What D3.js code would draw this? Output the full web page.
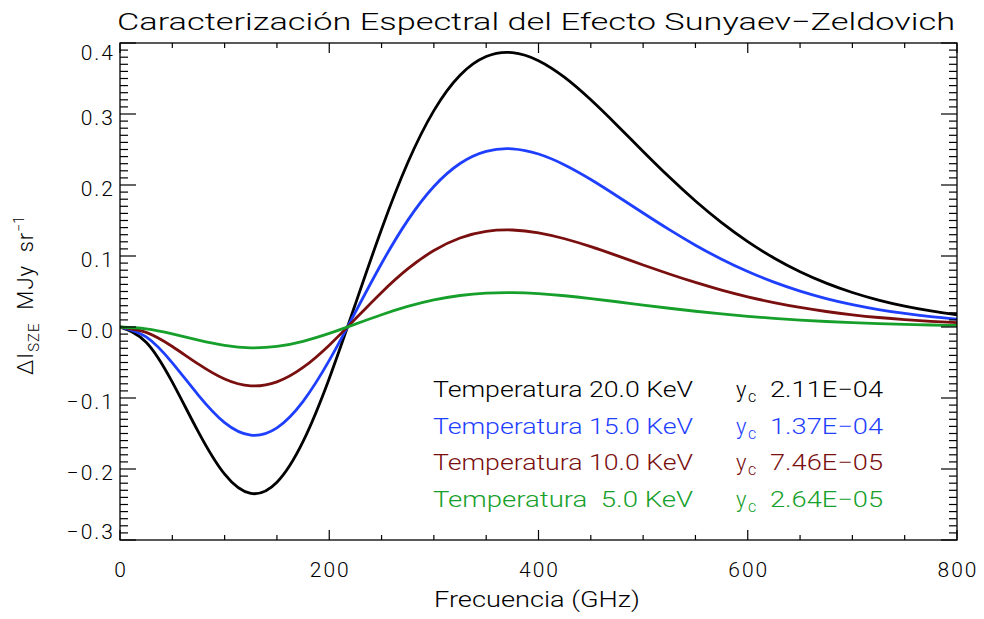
<!DOCTYPE html>
<html>
<head>
<meta charset="utf-8">
<script src="https://cdn.jsdelivr.net/npm/d3@7/dist/d3.min.js"></script>
<style>
  html, body { margin: 0; padding: 0; background: #fff; }
  svg text { font-family: "Roboto", "DejaVu Sans", sans-serif; font-weight: 300; white-space: pre; }
</style>
</head>
<body>
<svg id="chart" width="984" height="619"></svg>
<script>
// Frequencies (GHz) at which the spectra are sampled
const freqs = [0, 25, 50, 75, 100, 125, 150, 175, 200, 225, 250, 275, 300, 325, 350, 375, 400,
               425, 450, 475, 500, 525, 550, 575, 600, 625, 650, 675, 700, 725, 750, 775, 800];

// ΔI_SZE (MJy/sr) for each electron temperature
const sz20 = [0, -0.02141, -0.07767, -0.14809, -0.20734, -0.23441, -0.21864, -0.16118, -0.07248,
              0.03231, 0.13776, 0.23128, 0.30478, 0.35465, 0.38100, 0.38648, 0.37515, 0.35155,
              0.32000, 0.28422, 0.24720, 0.21112, 0.17743, 0.14701, 0.12027, 0.09728, 0.07787,
              0.06176, 0.04855, 0.03787, 0.02933, 0.02256, 0.01724];
const sz15 = [0, -0.01391, -0.05044, -0.09616, -0.13464, -0.15222, -0.14198, -0.10467, -0.04706,
              0.02098, 0.08946, 0.15019, 0.19792, 0.23030, 0.24741, 0.25097, 0.24361, 0.22829,
              0.20779, 0.18456, 0.16052, 0.13709, 0.11522, 0.09547, 0.07810, 0.06317, 0.05057,
              0.04010, 0.03153, 0.02460, 0.01905, 0.01465, 0.01120];
const sz10 = [0, -0.00757, -0.02746, -0.05236, -0.07331, -0.08288, -0.07730, -0.05699, -0.02562,
              0.01143, 0.04871, 0.08177, 0.10776, 0.12539, 0.13471, 0.13664, 0.13264, 0.12429,
              0.11314, 0.10049, 0.08740, 0.07464, 0.06273, 0.05198, 0.04252, 0.03440, 0.02753,
              0.02184, 0.01717, 0.01339, 0.01037, 0.00798, 0.00610];
const sz05 = [0, -0.00268, -0.00972, -0.01853, -0.02594, -0.02933, -0.02736, -0.02017, -0.00907,
              0.00404, 0.01724, 0.02894, 0.03814, 0.04437, 0.04767, 0.04836, 0.04694, 0.04399,
              0.04004, 0.03556, 0.03093, 0.02642, 0.02220, 0.01840, 0.01505, 0.01217, 0.00974,
              0.00773, 0.00608, 0.00474, 0.00367, 0.00282, 0.00216];

// Legend content
const temps = ["20.0", "15.0", "10.0", " 5.0"];
const ycVals = ["2.11E\u221204", "1.37E\u221204", "7.46E\u221205", "2.64E\u221205"];
const colors = ["#000000", "#1f3fff", "#7a0f0f", "#16a02b"];
const seriesList = [sz20, sz15, sz10, sz05];

// Axis ticks
const xTicks = [0, 200, 400, 600, 800];
const xTickLabels = ["0", "200", "400", "600", "800"];
const yTicks = [0.4, 0.3, 0.2, 0.1, 0.0, -0.1, -0.2, -0.3];
const yTickLabels = ["0.4", "0.3", "0.2", "0.1", "\u22120.0", "\u22120.1", "\u22120.2", "\u22120.3"];

const svg = d3.select("#chart");
const L = 120, R = 957, T = 43, B = 540;

const x = d3.scaleLinear().domain([0, 800]).range([L, R]);
const y = d3.scaleLinear().domain([-0.3, 0.4]).range([B, T]);

svg.append("rect").attr("width", 984).attr("height", 619).attr("fill", "#fff");

// Title
svg.append("text")
  .attr("x", 117).attr("y", 30)
  .attr("font-size", 24)
  .attr("textLength", 838).attr("lengthAdjust", "spacingAndGlyphs")
  .text("Caracterización Espectral del Efecto Sunyaev\u2212Zeldovich");

// Curves
const line = d3.line()
  .x((d, i) => x(freqs[i]))
  .y(d => y(d))
  .curve(d3.curveNatural);

const plot = svg.append("g");
plot.append("clipPath").attr("id", "clip")
  .append("rect").attr("x", L).attr("y", T).attr("width", R - L).attr("height", B - T);

seriesList.forEach((s, k) => {
  plot.append("path")
    .attr("d", line(s))
    .attr("fill", "none")
    .attr("stroke", colors[k])
    .attr("stroke-width", 2.8)
    .attr("stroke-linejoin", "round")
    .attr("clip-path", "url(#clip)");
});

// Frame
svg.append("rect")
  .attr("x", L).attr("y", T).attr("width", R - L).attr("height", B - T)
  .attr("fill", "none").attr("stroke", "#000").attr("stroke-width", 1.3);

// X ticks (bottom and top, pointing inward)
const xMinor = d3.range(0, 801, 50);
const xg = svg.append("g").attr("stroke", "#000").attr("stroke-width", 1.2);
xMinor.forEach(v => {
  const major = v % 200 === 0;
  const len = major ? 10 : 5;
  xg.append("line").attr("x1", x(v)).attr("x2", x(v)).attr("y1", B).attr("y2", B - len);
  xg.append("line").attr("x1", x(v)).attr("x2", x(v)).attr("y1", T).attr("y2", T + len);
});

// Y ticks (left and right, pointing inward)
const yMinor = d3.range(-30, 41, 1).map(v => v / 100);
const yg = svg.append("g").attr("stroke", "#000").attr("stroke-width", 1.2);
yMinor.forEach(v => {
  const major = Math.round(v * 100) % 10 === 0;
  const len = major ? 16 : 8;
  yg.append("line").attr("x1", L).attr("x2", L + len).attr("y1", y(v)).attr("y2", y(v));
  yg.append("line").attr("x1", R).attr("x2", R - len).attr("y1", y(v)).attr("y2", y(v));
});

// X tick labels
svg.append("g").selectAll("text").data(xTicks).join("text")
  .attr("x", d => x(d) + 1).attr("y", 577)
  .attr("text-anchor", "middle").attr("font-size", 21)
  .attr("letter-spacing", 2)
  .text((d, i) => xTickLabels[i]);

// Y tick labels
svg.append("g").selectAll("text").data(yTicks).join("text")
  .attr("x", 115)
  .attr("y", d => Math.min(Math.max(y(d) + 3.5, 52.5), 531) + 7.5)
  .attr("text-anchor", "end").attr("font-size", 21)
  .attr("letter-spacing", 2)
  .text((d, i) => yTickLabels[i]);

// X axis title
svg.append("text")
  .attr("x", 434).attr("y", 607)
  .attr("font-size", 22)
  .attr("textLength", 206).attr("lengthAdjust", "spacingAndGlyphs")
  .text("Frecuencia (GHz)");

// Y axis title
const yt = svg.append("text")
  .attr("transform", "translate(33,375) rotate(-90)")
  .attr("font-size", 22);
yt.append("tspan").attr("letter-spacing", 1).text("\u0394I");
yt.append("tspan").attr("font-size", 15).attr("dy", 6).attr("letter-spacing", 1).text("SZE");
yt.append("tspan").attr("dy", -6).attr("letter-spacing", 1).text("  MJy  sr");
yt.append("tspan").attr("font-size", 14).attr("dy", -9).text("\u22121");

// Legend
const rowY = [397, 434, 470, 507];
const lg = svg.append("g");
temps.forEach((t, k) => {
  lg.append("text")
    .attr("x", 433).attr("y", rowY[k])
    .attr("font-size", 22).attr("fill", colors[k])
    .attr("textLength", 260).attr("lengthAdjust", "spacingAndGlyphs")
    .text("Temperatura " + t + " KeV");
  lg.append("text")
    .attr("x", 736).attr("y", rowY[k])
    .attr("font-size", 22).attr("fill", colors[k])
    .text("y");
  lg.append("text")
    .attr("x", 748).attr("y", rowY[k] + 5)
    .attr("font-size", 16).attr("fill", colors[k])
    .text("c");
  lg.append("text")
    .attr("x", 770).attr("y", rowY[k])
    .attr("font-size", 22).attr("fill", colors[k])
    .attr("textLength", 113).attr("lengthAdjust", "spacingAndGlyphs")
    .text(ycVals[k]);
});
</script>
</body>
</html>
